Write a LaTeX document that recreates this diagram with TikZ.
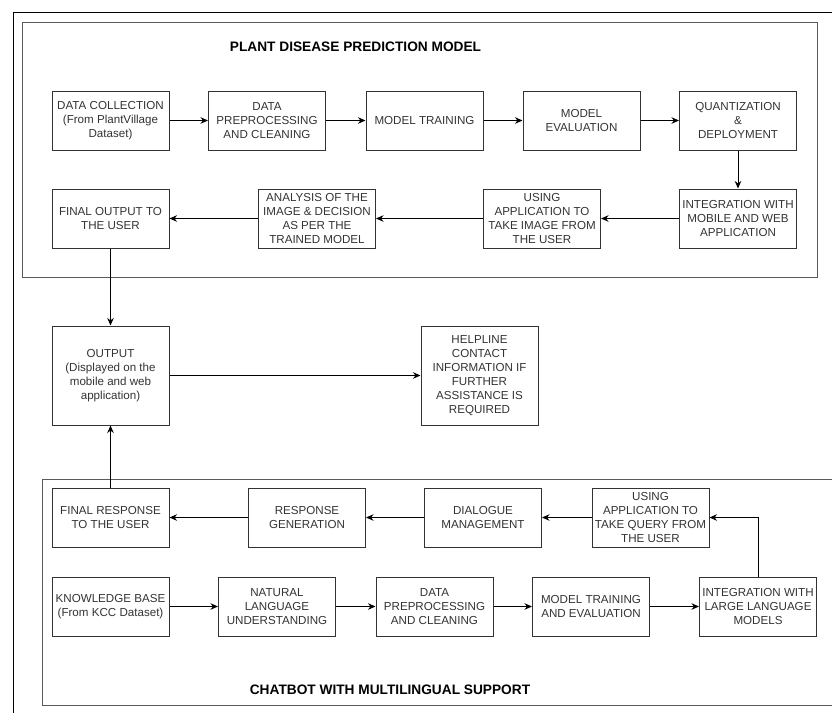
\documentclass[tikz,border=0pt]{standalone}
\usepackage{fontspec}
\setmainfont{Liberation Sans}
\usetikzlibrary{arrows.meta}
\definecolor{txtgray}{HTML}{333333}
\definecolor{framegray}{HTML}{5A5A5A}

\begin{document}
\begin{tikzpicture}[x = 1pt, y = -1pt,
		stepbox/.style = {draw = txtgray, line width = 1pt, minimum width = 117pt, minimum height = 59pt, inner sep = 1pt, align = center, text = txtgray, font = \fontsize{11.6}{14}\selectfont},
		tallbox/.style = {stepbox, minimum height = 99pt},
		flow/.style = {-{Stealth[length = 7.5pt, width = 6.5pt]}, line width = 1pt},
		title/.style = {font = \fontsize{13.7}{16}\selectfont\bfseries}]
		\useasboundingbox (0, 0) rectangle (832, 713);
		% frames
		\draw[line width = 1pt] (832, 12) -- (13, 12) -- (13, 713);
		\draw[framegray, line width = 1pt] (22, 22) rectangle (817, 277);
		\draw[framegray, line width = 1pt] (832, 479) -- (42, 479) -- (42, 705) -- (832, 705);
		\node[title] (plant) at (355.5, 47) {PLANT DISEASE PREDICTION MODEL};
		\node[title] (chat) at (390, 690) {CHATBOT WITH MULTILINGUAL SUPPORT};
		% prediction model
		\node[stepbox] (dc) at (110.5, 120.5) {DATA COLLECTION\\(From PlantVillage\\Dataset)};
		\node[stepbox] (dp) at (267, 120.5) {DATA\\PREPROCESSING\\AND CLEANING};
		\node[stepbox] (mt) at (424.5, 120.5) {MODEL TRAINING};
		\node[stepbox] (me) at (581.5, 120.5) {MODEL\\EVALUATION};
		\node[stepbox] (qd) at (738, 120.5) {QUANTIZATION\\\&\\DEPLOYMENT};
		\node[stepbox] (ig) at (738, 218.5) {INTEGRATION WITH\\MOBILE AND WEB\\APPLICATION};
		\node[stepbox] (ua) at (542, 218.5) {USING\\APPLICATION TO\\TAKE IMAGE FROM\\THE USER};
		\node[stepbox] (an) at (317, 218.5) {ANALYSIS OF THE\\IMAGE \& DECISION\\AS PER THE\\TRAINED MODEL};
		\node[stepbox] (fo) at (110.5, 218.5) {FINAL OUTPUT TO\\THE USER};
		\draw[flow] (dc) -- (dp);
		\draw[flow] (dp) -- (mt);
		\draw[flow] (mt) -- (me);
		\draw[flow] (me) -- (qd);
		\draw[flow] (qd) -- (ig);
		\draw[flow] (ig) -- (ua);
		\draw[flow] (ua) -- (an);
		\draw[flow] (an) -- (fo);
		% output
		\node[tallbox] (out) at (110.5, 375.5) {OUTPUT\\(Displayed on the\\mobile and web\\application)};
		\node[tallbox] (help) at (479.5, 375.5) {HELPLINE\\CONTACT\\INFORMATION IF\\FURTHER\\ASSISTANCE IS\\REQUIRED};
		\draw[flow] (fo) -- (out);
		\draw[flow] (out) -- (help);
		% chatbot
		\node[stepbox] (kb) at (110.5, 606.5) {KNOWLEDGE BASE\\(From KCC Dataset)};
		\node[stepbox] (nl) at (277, 606.5) {NATURAL\\LANGUAGE\\UNDERSTANDING};
		\node[stepbox] (cp) at (434.5, 606.5) {DATA\\PREPROCESSING\\AND CLEANING};
		\node[stepbox] (ct) at (591, 606.5) {MODEL TRAINING\\AND EVALUATION};
		\node[stepbox] (llm) at (758, 606.5) {INTEGRATION WITH\\LARGE LANGUAGE\\MODELS};
		\node[stepbox] (uq) at (650.5, 517.5) {USING\\APPLICATION TO\\TAKE QUERY FROM\\THE USER};
		\node[stepbox] (dm) at (483, 517.5) {DIALOGUE\\MANAGEMENT};
		\node[stepbox] (rg) at (307, 517.5) {RESPONSE\\GENERATION};
		\node[stepbox] (fr) at (110.5, 517.5) {FINAL RESPONSE\\TO THE USER};
		\draw[flow] (kb) -- (nl);
		\draw[flow] (nl) -- (cp);
		\draw[flow] (cp) -- (ct);
		\draw[flow] (ct) -- (llm);
		\draw[flow] (llm.north) |- (uq.east);
		\draw[flow] (uq) -- (dm);
		\draw[flow] (dm) -- (rg);
		\draw[flow] (rg) -- (fr);
		\draw[flow] (fr) -- (out);
	\end{tikzpicture}
\end{document}
